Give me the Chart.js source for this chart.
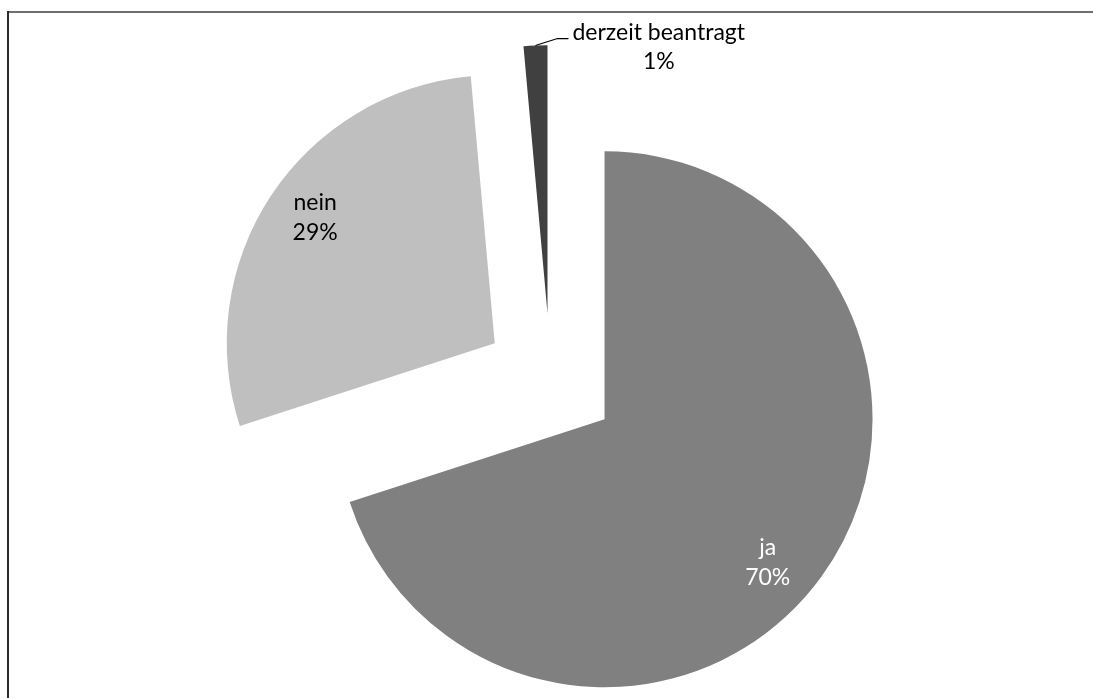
<!DOCTYPE html>
<html>
<head>
<meta charset="utf-8">
<script src="https://cdn.jsdelivr.net/npm/chart.js@4.4.1/dist/chart.umd.min.js"></script>
<style>
  html, body { margin: 0; padding: 0; background: #fff; }
  canvas { display: block; }
</style>
</head>
<body>
<canvas id="myChart" width="1093" height="698"></canvas>
<script>
const categories = ["ja", "nein", "derzeit beantragt"];
const responses = [49, 20, 1];

const sliceColors = ["#808080", "#bfbfbf", "#404040"];
const labelColors = ["#ffffff", "#000000", "#000000"];
// inside labels: radius fraction and small turn (degrees) past the mid angle
const labelRadius = [0.792, 0.835];
const labelTurn = [3.75, 3.2];

const EXPLODE = 66.8;
const FONT = '23px Lato, "Open Sans", sans-serif';
const LINE = 30;

// white background plus the frame lines along the top and left
const frame = {
  id: "frame",
  beforeDraw(chart) {
    const c = chart.ctx;
    c.save();
    c.fillStyle = "#fff";
    c.fillRect(0, 0, chart.width, chart.height);
    c.fillStyle = "#6e6e6e";
    c.fillRect(7, 11, chart.width - 7, 2);
    c.fillStyle = "#2a2a2a";
    c.fillRect(7, 11, 2, chart.height - 11);
    c.restore();
  }
};

// pull every slice out from the common centre along its mid angle
const explode = {
  id: "explode",
  afterDatasetUpdate(chart, args) {
    args.meta.data.forEach((arc) => {
      const mid = (arc.startAngle + arc.endAngle) / 2;
      arc.x += Math.cos(mid) * EXPLODE;
      arc.y += Math.sin(mid) * EXPLODE;
    });
  }
};

const sliceLabels = {
  id: "sliceLabels",
  afterDatasetsDraw(chart) {
    const c = chart.ctx;
    const meta = chart.getDatasetMeta(0);
    const data = chart.data.datasets[0].data;
    const total = data.reduce((a, b) => a + b, 0);
    c.save();
    c.font = FONT;
    c.textBaseline = "alphabetic";
    meta.data.forEach((arc, i) => {
      const name = chart.data.labels[i];
      const pct = Math.round((data[i] / total) * 100) + "%";
      const mid = (arc.startAngle + arc.endAngle) / 2;
      c.fillStyle = labelColors[i];
      if (i < 2) {
        const a = mid + (labelTurn[i] * Math.PI) / 180;
        const r = arc.outerRadius * labelRadius[i];
        const x = arc.x + Math.cos(a) * r;
        const y = arc.y + Math.sin(a) * r;
        c.textAlign = "center";
        c.fillText(name, x, y);
        c.fillText(pct, x, y + LINE);
      } else {
        // small slice: label outside with a leader line
        const px = arc.x + Math.cos(mid) * arc.outerRadius;
        const py = arc.y + Math.sin(mid) * arc.outerRadius;
        c.strokeStyle = "#000";
        c.lineWidth = 1.2;
        c.beginPath();
        c.moveTo(px, py);
        c.lineTo(px + 22, py - 7);
        c.lineTo(px + 33, py - 7);
        c.stroke();
        const w = c.measureText(name).width;
        const tx = px + 37;
        c.textAlign = "left";
        c.fillText(name, tx, py - 6);
        c.textAlign = "center";
        c.fillText(pct, tx + w / 2, py - 6 + LINE - 1);
      }
    });
    c.restore();
  }
};

const ctx = document.getElementById("myChart");

new Chart(ctx, {
  type: "pie",
  data: {
    labels: categories,
    datasets: [
      {
        data: responses,
        backgroundColor: sliceColors,
        borderWidth: 0,
      },
    ],
  },
  options: {
    responsive: false,
    animation: false,
    events: [],
    radius: 268,
    layout: {
      padding: { left: 8, right: 0, top: 62, bottom: 0 },
    },
    plugins: {
      legend: { display: false },
      tooltip: { enabled: false },
    },
  },
  plugins: [frame, explode, sliceLabels],
});
</script>
</body>
</html>
